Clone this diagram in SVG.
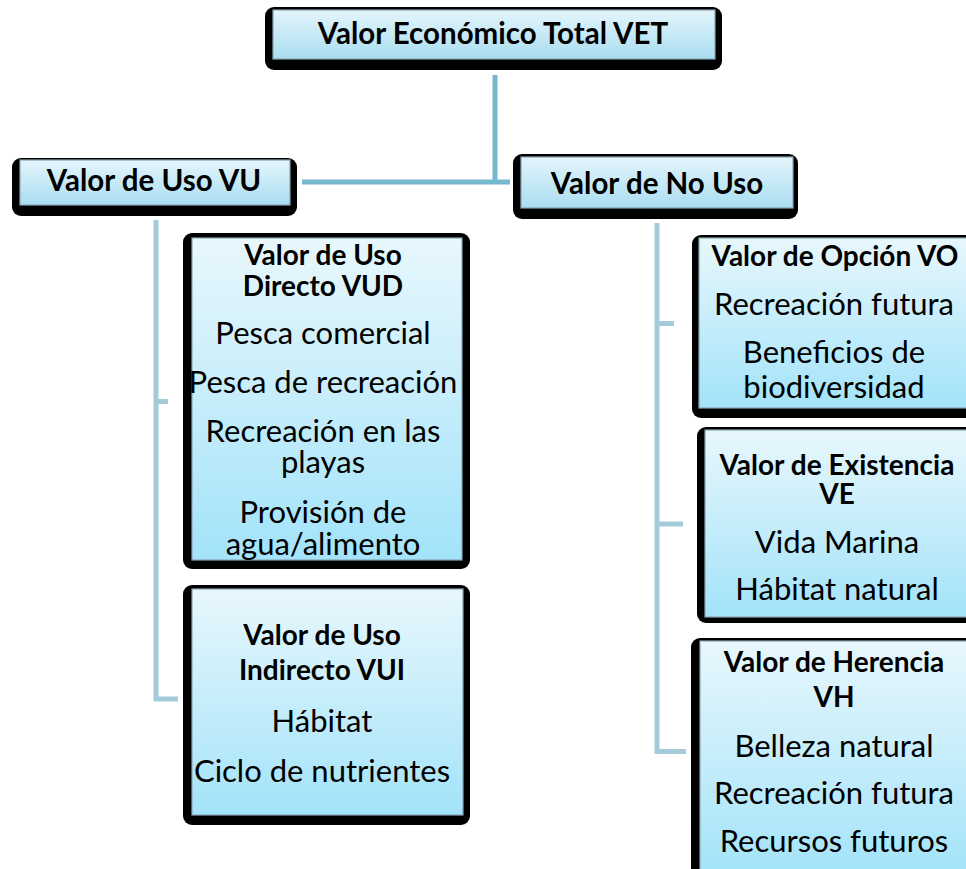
<svg xmlns="http://www.w3.org/2000/svg" width="966" height="869" viewBox="0 0 966 869">
<defs>
<linearGradient id="g1" x1="0" y1="0" x2="0" y2="1">
<stop offset="0" stop-color="#E4F5FB"/>
<stop offset="1" stop-color="#A9DDF1"/>
</linearGradient>
<linearGradient id="g2" x1="0" y1="0" x2="0" y2="1">
<stop offset="0" stop-color="#E8F7FC"/>
<stop offset="1" stop-color="#A3E3F9"/>
</linearGradient>
<style>
.sh{fill:#000}
.lt{fill:url(#g1);stroke:#8AA6B4;stroke-width:1.2}
.lc{fill:url(#g2);stroke:#8AA6B4;stroke-width:1.2}
.t{font-family:Lato,"Open Sans",sans-serif;font-size:31px;fill:#000;text-anchor:middle}
.b{font-weight:bold;font-size:28px}
.h{font-family:Lato,"Open Sans",sans-serif;font-weight:bold;font-size:29.5px;fill:#000;text-anchor:middle}
.c1{fill:none;stroke:#76B8CE;stroke-width:5}
.c2{fill:none;stroke:#A4CBDA;stroke-width:5}
</style>
</defs>
<g id="connectors">
<path class="c1" d="M495 75 V182 M302 182 H510"/>
<path class="c2" d="M156 220 V699 H178 M156 401.5 H168"/>
<path class="c2" d="M657 223 V751.5 H686 M657 323.5 H674 M657 524 H683"/>
</g>
<g id="vet">
<rect class="sh" x="265" y="7" width="457" height="63" rx="9"/>
<rect class="lt" x="273" y="10" width="442" height="49"/>
<text class="h" x="493" y="44">Valor Económico Total VET</text>
</g>
<g id="vu">
<rect class="sh" x="12" y="158" width="285" height="58" rx="9"/>
<rect class="lt" x="20" y="160" width="270" height="45"/>
<text class="h" x="154" y="191">Valor de Uso VU</text>
</g>
<g id="vnu">
<rect class="sh" x="513" y="154" width="285" height="65" rx="9"/>
<rect class="lt" x="521" y="157" width="272" height="51"/>
<text class="h" x="657" y="194">Valor de No Uso</text>
</g>
<g id="vud">
<rect class="sh" x="183" y="233" width="287" height="336" rx="9"/>
<rect class="lc" x="192" y="238" width="270" height="322"/>
<text class="t b" x="323" y="265">Valor de Uso</text>
<text class="t b" x="323" y="296">Directo VUD</text>
<text class="t" x="323" y="344">Pesca comercial</text>
<text class="t" x="323" y="393">Pesca de recreación</text>
<text class="t" x="323" y="442">Recreación en las</text>
<text class="t" x="323" y="473">playas</text>
<text class="t" x="323" y="523">Provisión de</text>
<text class="t" x="323" y="555">agua/alimento</text>
</g>
<g id="vui">
<rect class="sh" x="183" y="585" width="287" height="240" rx="9"/>
<rect class="lc" x="192" y="589" width="271" height="226"/>
<text class="t b" x="322" y="645">Valor de Uso</text>
<text class="t b" x="322" y="680">Indirecto VUI</text>
<text class="t" x="322" y="732">Hábitat</text>
<text class="t" x="322" y="782">Ciclo de nutrientes</text>
</g>
<g id="vo">
<rect class="sh" x="692" y="235" width="290" height="183" rx="9"/>
<rect class="lc" x="699" y="238" width="280" height="170"/>
<text class="t b" x="835" y="266">Valor de Opción VO</text>
<text class="t" x="834" y="315">Recreación futura</text>
<text class="t" x="834" y="363">Beneficios de</text>
<text class="t" x="834" y="398">biodiversidad</text>
</g>
<g id="ve">
<rect class="sh" x="697" y="427" width="285" height="196" rx="9"/>
<rect class="lc" x="705" y="430" width="275" height="187"/>
<text class="t b" x="837" y="475">Valor de Existencia</text>
<text class="t b" x="837" y="504">VE</text>
<text class="t" x="837" y="553">Vida Marina</text>
<text class="t" x="837" y="600">Hábitat natural</text>
</g>
<g id="vh">
<rect class="sh" x="691" y="638" width="290" height="240" rx="9"/>
<rect class="lc" x="700" y="641" width="280" height="235"/>
<text class="t b" x="834" y="672">Valor de Herencia</text>
<text class="t b" x="834" y="707">VH</text>
<text class="t" x="834" y="757">Belleza natural</text>
<text class="t" x="834" y="804">Recreación futura</text>
<text class="t" x="834" y="852">Recursos futuros</text>
</g>
</svg>
